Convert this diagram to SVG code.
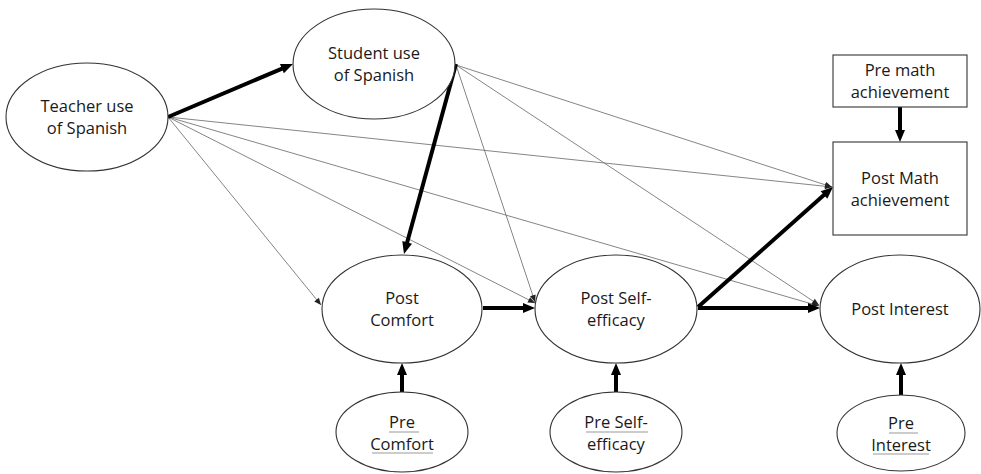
<svg xmlns="http://www.w3.org/2000/svg" width="981" height="474" viewBox="0 0 981 474">
<style>
.n{fill:#fff;stroke:#333;stroke-width:1.1}
.t{font-family:"Open Sans","Liberation Sans",sans-serif;font-size:16.5px;fill:#1a1a1a;text-anchor:middle}
.thick{stroke:#000;stroke-width:4;fill:none;marker-end:url(#big)}
.thin{stroke:#777;stroke-width:0.9;fill:none;marker-end:url(#small)}
.ul{stroke:#bbb;stroke-width:1.5}
</style>
<defs>
<marker id="big" markerUnits="userSpaceOnUse" markerWidth="13" markerHeight="11" refX="4" refY="5" orient="auto" overflow="visible"><path d="M0,0 L12,5 L0,10 z" fill="#000"/></marker>
<marker id="small" markerUnits="userSpaceOnUse" markerWidth="8" markerHeight="7" refX="7" refY="3" orient="auto" overflow="visible"><path d="M0,0 L7,3 L0,6 z" fill="#222"/></marker>
</defs>
<rect width="981" height="474" fill="#fff"/>
<g id="connectors">
<line class="thin" x1="168" y1="117" x2="321" y2="305"/>
<line class="thin" x1="168" y1="117" x2="535" y2="303"/>
<line class="thin" x1="168" y1="117" x2="819" y2="306"/>
<line class="thin" x1="168" y1="117" x2="832" y2="187"/>
<line class="thin" x1="456" y1="65" x2="535" y2="302"/>
<line class="thin" x1="456" y1="65" x2="819" y2="305"/>
<line class="thin" x1="456" y1="65" x2="832" y2="187"/>
<line class="thick" x1="168" y1="117" x2="285.6" y2="67.1"/>
<line class="thick" x1="456" y1="64" x2="406.1" y2="246.3"/>
<line class="thick" x1="483" y1="308" x2="527" y2="308"/>
<line class="thick" x1="698" y1="308" x2="812" y2="308"/>
<line class="thick" x1="698" y1="307" x2="827" y2="192.3"/>
<line class="thick" x1="900" y1="107" x2="900" y2="134"/>
<line class="thick" x1="402" y1="392" x2="402" y2="371"/>
<line class="thick" x1="616" y1="392" x2="616" y2="371"/>
<line class="thick" x1="901" y1="396" x2="901" y2="371"/>
</g>
<g id="teacher">
<ellipse class="n" cx="87" cy="117" rx="81" ry="54"/>
<text class="t" x="87" y="112">Teacher use</text>
<text class="t" x="87" y="134">of Spanish</text>
</g>
<g id="student">
<ellipse class="n" cx="374" cy="64" rx="81" ry="55"/>
<text class="t" x="374" y="59">Student use</text>
<text class="t" x="374" y="81">of Spanish</text>
</g>
<g id="premath">
<rect class="n" x="833" y="55" width="134" height="52"/>
<text class="t" x="900" y="76">Pre math</text>
<text class="t" x="900" y="98">achievement</text>
</g>
<g id="postmath">
<rect class="n" x="833" y="142" width="134" height="93"/>
<text class="t" x="900" y="184">Post Math</text>
<text class="t" x="900" y="206">achievement</text>
</g>
<g id="postcomfort">
<ellipse class="n" cx="402" cy="309" rx="80" ry="54"/>
<text class="t" x="402" y="304">Post</text>
<text class="t" x="402" y="326">Comfort</text>
</g>
<g id="postselfefficacy">
<ellipse class="n" cx="616" cy="309" rx="81" ry="54"/>
<text class="t" x="616" y="304">Post Self-</text>
<text class="t" x="616" y="326">efficacy</text>
</g>
<g id="postinterest">
<ellipse class="n" cx="900" cy="309" rx="80" ry="54"/>
<text class="t" x="900" y="315">Post Interest</text>
</g>
<g id="precomfort">
<ellipse class="n" cx="402" cy="432" rx="66" ry="40"/>
<line class="ul" x1="389" y1="432" x2="419" y2="432"/>
<line class="ul" x1="372" y1="453" x2="433" y2="453"/>
<text class="t" x="402" y="428">Pre </text>
<text class="t" x="402" y="450">Comfort</text>
</g>
<g id="preselfefficacy">
<ellipse class="n" cx="616" cy="432" rx="66" ry="40"/>
<line class="ul" x1="586" y1="432" x2="648" y2="432"/>
<text class="t" x="616" y="428">Pre Self-</text>
<text class="t" x="616" y="450">efficacy</text>
</g>
<g id="preinterest">
<ellipse class="n" cx="901" cy="433" rx="64" ry="38"/>
<line class="ul" x1="889" y1="433" x2="918" y2="433"/>
<line class="ul" x1="873" y1="454" x2="929" y2="454"/>
<text class="t" x="901" y="429">Pre </text>
<text class="t" x="901" y="451">Interest</text>
</g>
</svg>
